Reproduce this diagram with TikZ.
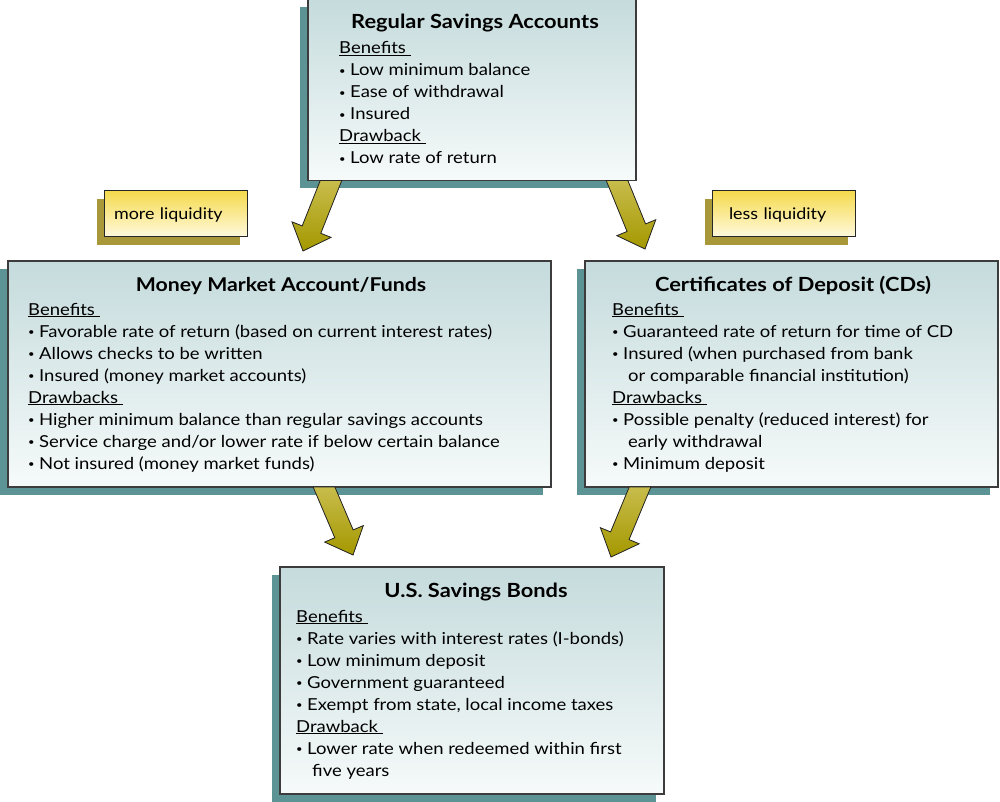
\documentclass[tikz,border=0pt]{standalone}
\usepackage{fontspec}
\setmainfont{Lato}[FakeStretch=1.12]
\usetikzlibrary{calc,shadows}
\definecolor{boxtop}{RGB}{197,219,220}
\definecolor{boxbot}{RGB}{246,250,250}
\definecolor{boxshadow}{RGB}{92,148,150}
\definecolor{boxline}{RGB}{60,60,60}
\definecolor{labtop}{RGB}{245,218,76}
\definecolor{labbot}{RGB}{255,249,222}
\definecolor{labshadow}{RGB}{168,152,58}
\definecolor{arrtop}{RGB}{200,188,76}
\definecolor{arrbot}{RGB}{164,152,0}
\newcommand\bul{\makebox[11pt][l]{\fontsize{10}{10}\selectfont\raisebox{1.8pt}{•}}}
\newcommand\cont{\hspace*{16pt}}
\newcommand\hd[1]{\underline{#1\ }}
\newcommand\fatarr[2]{%
  \coordinate (aS) at #1;
  \coordinate (aT) at #2;
  \coordinate (aSx) at ($(aS)+(10,0)$);
  \coordinate (aH) at ($(aT)!23pt!(aS)$);
  \coordinate (aSl) at ($(aS)!10pt!90:(aT)$);
  \coordinate (aSr) at ($(aS)!10pt!-90:(aT)$);
  \coordinate (aHl) at ($(aH)!10pt!90:(aT)$);
  \coordinate (aHr) at ($(aH)!10pt!-90:(aT)$);
  \coordinate (aWl) at ($(aH)!21pt!90:(aT)$);
  \coordinate (aWr) at ($(aH)!21pt!-90:(aT)$);
  \coordinate (aTl) at (intersection of aSl--aHl and aS--aSx);
  \coordinate (aTr) at (intersection of aSr--aHr and aS--aSx);
  \filldraw[fatarrow] (aTl) -- (aHl) -- (aWl) -- (aT) -- (aWr) -- (aHr) -- (aTr) -- cycle;
}
\tikzset{
  infobox/.style={draw=boxline, line width=1.2pt, top color=boxtop, bottom color=boxbot,
    inner sep=0pt, outer sep=0pt, anchor=north west,
    drop shadow={shadow xshift=-8pt, shadow yshift=-8pt, fill=boxshadow, opacity=1, draw=none}},
  labbox/.style={draw=black!85, line width=1pt, top color=labtop, bottom color=labbot,
    outer sep=0pt, inner ysep=0pt, anchor=north west, align=left, minimum height=46pt,
    font=\fontsize{16}{20}\selectfont,
    drop shadow={shadow xshift=-7pt, shadow yshift=-8pt, fill=labshadow, opacity=1, draw=none}},
  bodytext/.style={anchor=base west, inner sep=0pt, font=\fontsize{16.5}{22}\selectfont},
  titletext/.style={anchor=base, inner sep=0pt, font=\bfseries\fontsize{19.5}{22}\selectfont},
  fatarrow/.style={draw=black!85, line width=0.8pt, line join=miter, top color=arrtop, bottom color=arrbot}
}
\begin{document}
\begin{tikzpicture}[x=1pt,y=1pt]
\useasboundingbox (0,0) rectangle (1000,-802);
% liquidity labels
\node[labbox, text width=123pt, inner xsep=10pt, text depth=0pt] (more) at (104,-191) {more liquidity};
\node[labbox, text width=109pt, inner xsep=17pt, text depth=0pt] (less) at (712,-191) {less liquidity};
% boxes
\node[infobox, minimum width=328pt, minimum height=181pt] (rsa) at (308,0.5) {};
\node[infobox, minimum width=543pt, minimum height=226pt] (mma) at (8,-261) {};
\node[infobox, minimum width=413pt, minimum height=226pt] (cds) at (585,-261) {};
\node[infobox, minimum width=384pt, minimum height=227pt] (usb) at (280,-567) {};
% titles
\node[titletext] (rsat) at (475,-29) {Regular Savings Accounts};
\node[titletext, font=\bfseries\fontsize{19}{22}\selectfont] (mmat) at (281,-291) {Money Market Account/Funds};
\node[titletext] (cdst) at (793,-291) {Certificates of Deposit (CDs)};
\node[titletext] (usbt) at (476,-597) {U.S. Savings Bonds};
% bodies
\node[bodytext] (rsab) at (339,-54) {\begin{tabular}[t]{@{}l@{}}
\hd{Benefits}\\
\bul Low minimum balance\\
\bul Ease of withdrawal\\
\bul Insured\\
\hd{Drawback}\\
\bul Low rate of return
\end{tabular}};
\node[bodytext] (mmab) at (28,-315) {\begin{tabular}[t]{@{}l@{}}
\hd{Benefits}\\
\bul Favorable rate of return (based on current interest rates)\\
\bul Allows checks to be written\\
\bul Insured (money market accounts)\\
\hd{Drawbacks}\\
\bul Higher minimum balance than regular savings accounts\\
\bul Service charge and/or lower rate if below certain balance\\
\bul Not insured (money market funds)
\end{tabular}};
\node[bodytext] (cdsb) at (612,-315) {\begin{tabular}[t]{@{}l@{}}
\hd{Benefits}\\
\bul Guaranteed rate of return for time of CD\\
\bul Insured (when purchased from bank\\
\cont or comparable financial institution)\\
\hd{Drawbacks}\\
\bul Possible penalty (reduced interest) for\\
\cont early withdrawal\\
\bul Minimum deposit
\end{tabular}};
\node[bodytext] (usbb) at (296,-622) {\begin{tabular}[t]{@{}l@{}}
\hd{Benefits}\\
\bul Rate varies with interest rates (I-bonds)\\
\bul Low minimum deposit\\
\bul Government guaranteed\\
\bul Exempt from state, local income taxes\\
\hd{Drawback}\\
\bul Lower rate when redeemed within first\\
\cont five years
\end{tabular}};
% arrows
\fatarr{($(rsa.south west)+(23,0)$)}{($(mma.north west)+(295,10)$)}
\fatarr{($(rsa.south west)+(309,0)$)}{($(cds.north west)+(60,12)$)}
\fatarr{($(mma.south west)+(316,0)$)}{($(usb.north west)+(73,12)$)}
\fatarr{($(cds.south west)+(55,0)$)}{($(usb.north west)+(331,10)$)}
\end{tikzpicture}
\end{document}
